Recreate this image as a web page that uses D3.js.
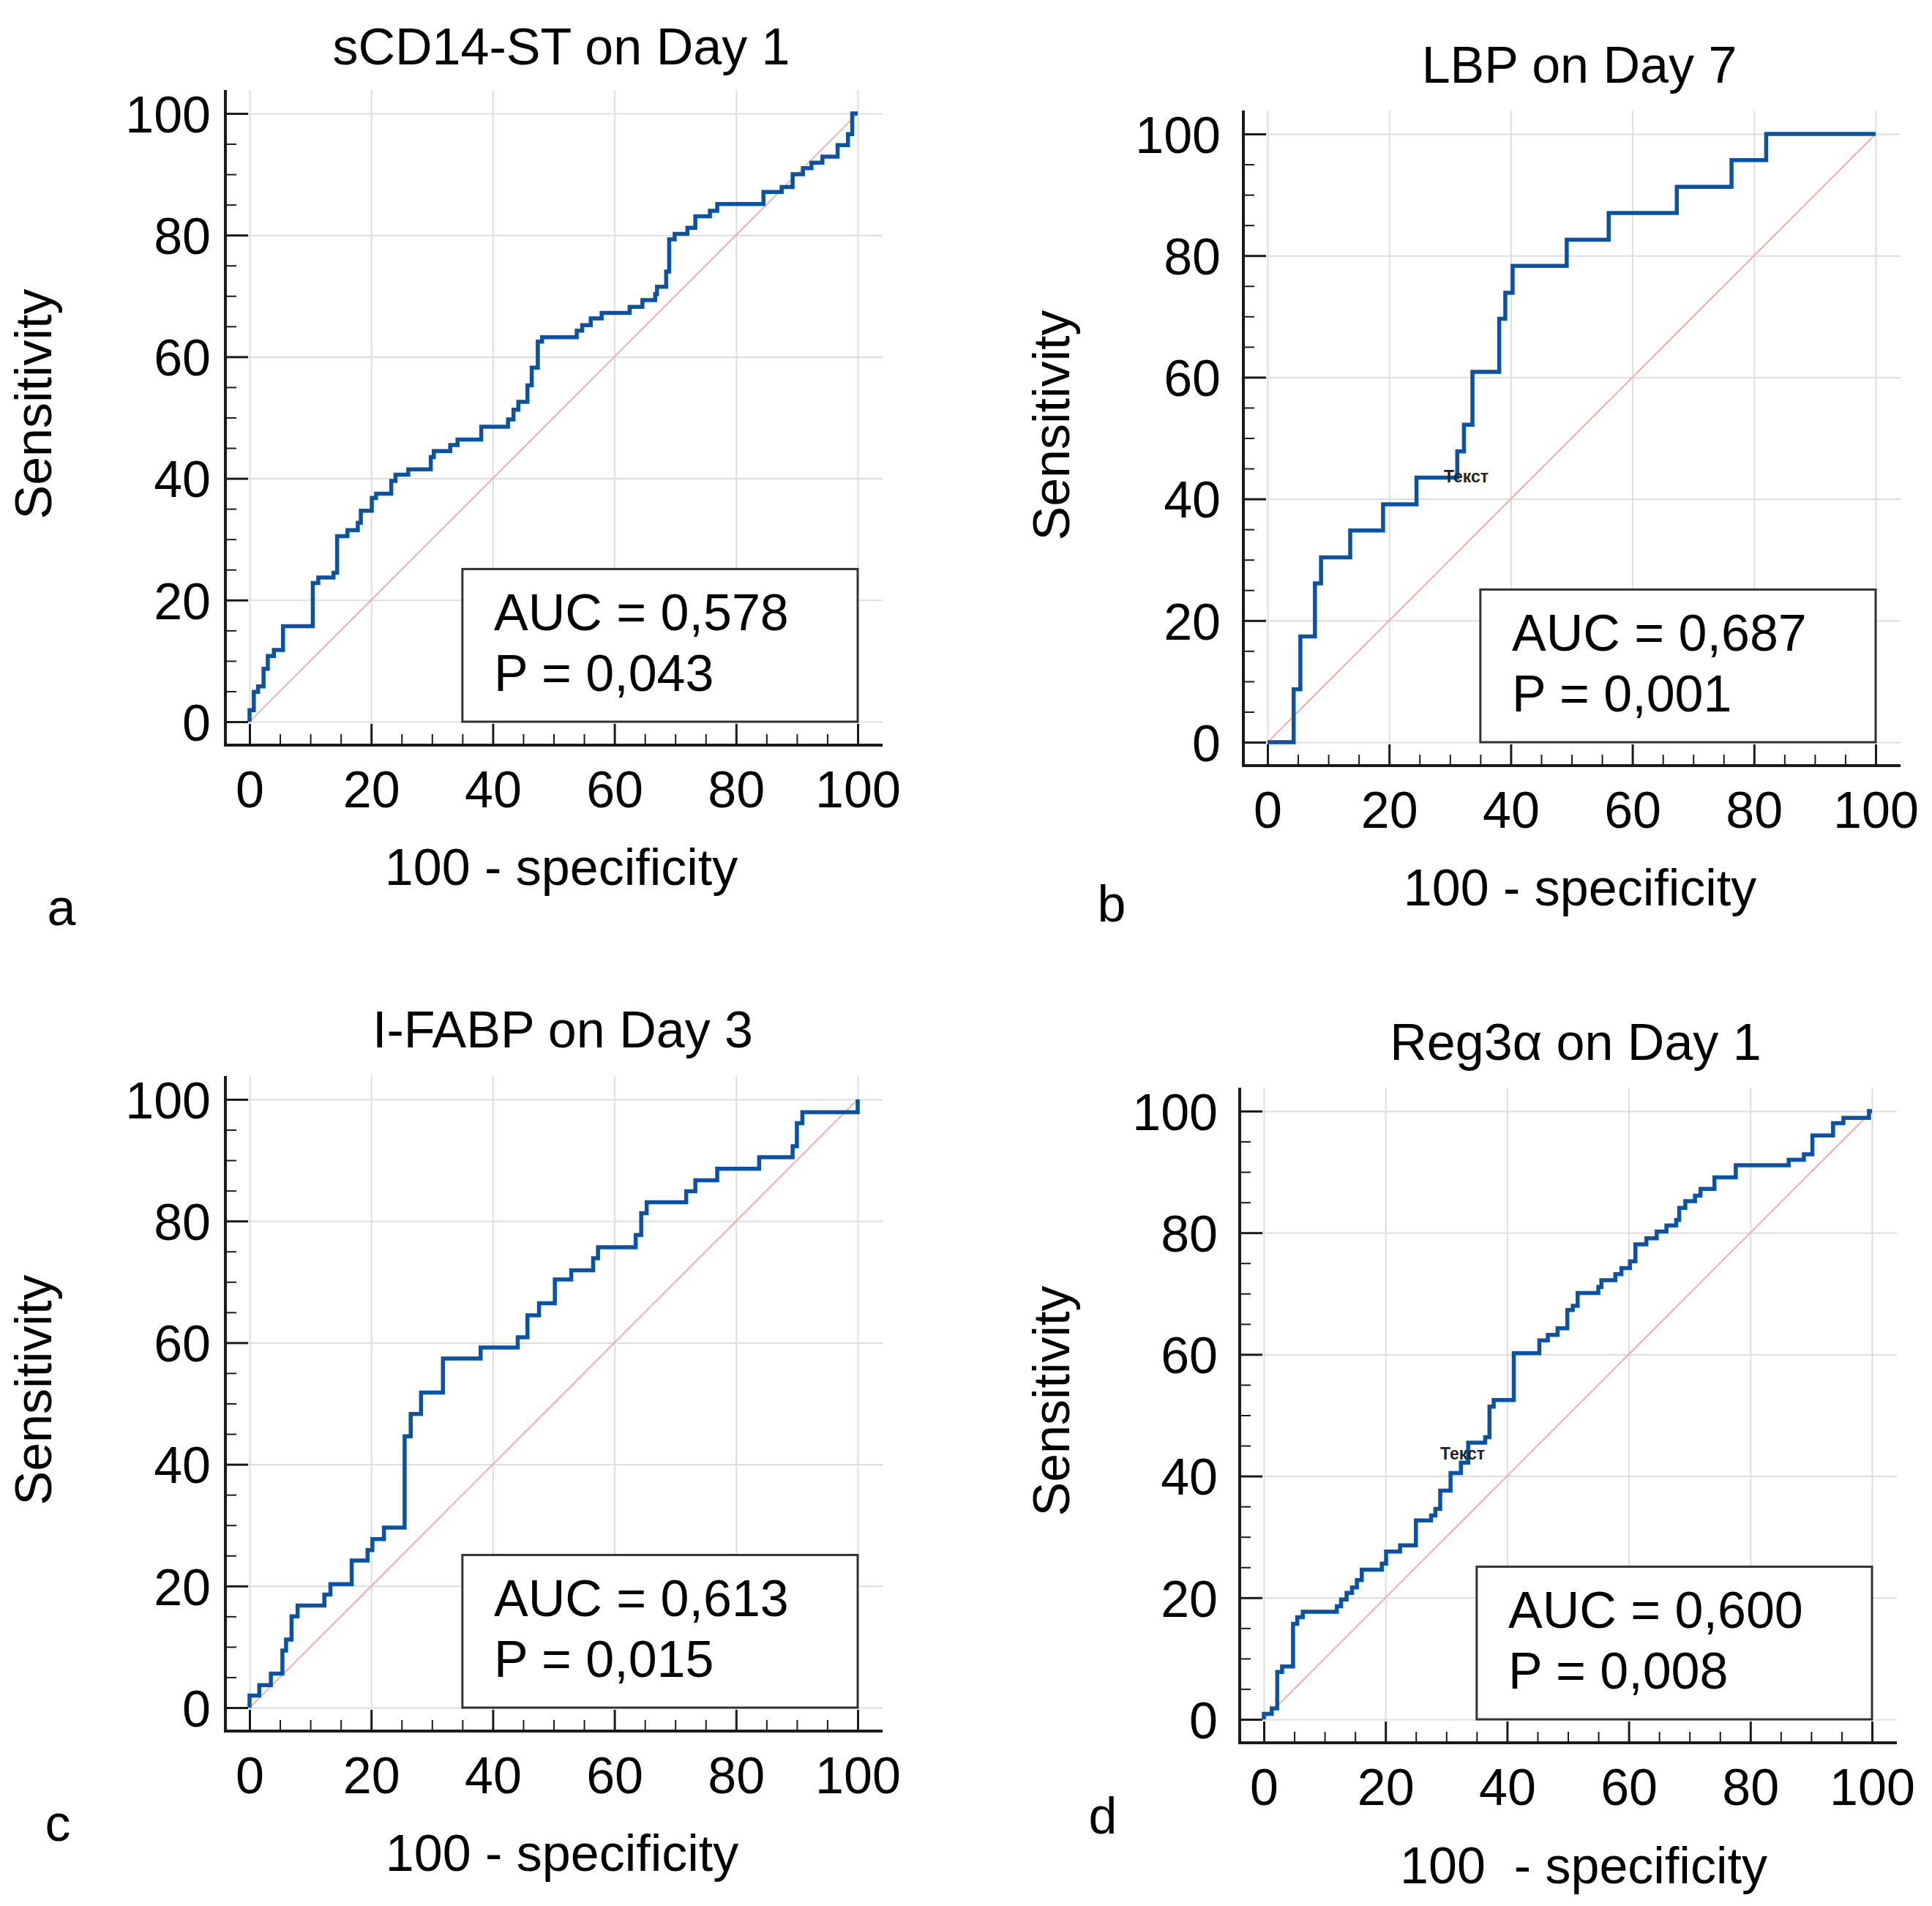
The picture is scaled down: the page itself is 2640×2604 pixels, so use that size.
<!DOCTYPE html>
<html>
<head>
<meta charset="utf-8">
<script src="https://cdn.jsdelivr.net/npm/d3@7"></script>
<style>
  body { margin: 0; background: #fff; }
</style>
</head>
<body>
<div id="chart"></div>
<script>
// ---- data ----
const titles = ["sCD14-ST on Day 1", "LBP on Day 7", "I-FABP on Day 3", "Reg3α on Day 1"];
const aucLabels = ["AUC = 0,578", "AUC = 0,687", "AUC = 0,613", "AUC = 0,600"];
const pLabels = ["P = 0,043", "P = 0,001", "P = 0,015", "P = 0,008"];
const panelLetters = ["a", "b", "c", "d"];
const xTitles = ["100 - specificity", "100 - specificity", "100 - specificity", "100  - specificity"];
const yTitle = "Sensitivity";
const noteLabels = [null, "Текст", null, "Текст"];
const majorTicks = [0, 20, 40, 60, 80, 100];
const minorTicks = [5, 10, 15, 25, 30, 35, 45, 50, 55, 65, 70, 75, 85, 90, 95];

// ROC step points: [100 - specificity, sensitivity] at each rise
const rocA = [[0,0],[0,1.9],[0.7,4.9],[1.4,5.8],[2.3,8.7],[3.0,10.8],[4.0,11.8],[5.5,15.7],[10.4,22.8],[11.3,23.7],
  [13.8,24.5],[14.4,30.5],[16.1,31.5],[17.8,32.7],[18.3,34.7],[20.1,36.8],[20.8,37.5],[23.3,39.6],[24.0,40.6],[26.1,41.5],
  [29.8,43.5],[30.3,44.5],[33.0,45.5],[34.2,46.4],[38.1,48.5],[42.5,49.7],[43.4,51.3],[44.2,52.6],[45.7,55.3],[46.4,58.2],
  [47.4,62.5],[48.1,63.2],[53.8,64.3],[54.7,65.2],[56.1,66.3],[57.9,67.2],[62.5,68.2],[64.6,69.3],[66.7,70.3],[67.0,71.5],
  [68.5,74.0],[69.0,79.3],[69.9,80.2],[72.0,81.2],[73.3,83.1],[75.7,84.0],[76.9,85.1],[84.5,87.1],[87.5,87.9],[89.3,90.0],
  [91.0,91.0],[92.4,91.9],[94.2,92.9],[96.7,94.8],[98.4,96.6],[99.1,100],[100,100]];
const rocB = [[0,0],[4.3,8.7],[5.4,17.4],[7.8,26.1],[8.8,30.4],[13.6,34.8],[19.0,39.1],[24.5,43.5],[31.2,47.8],[32.3,52.2],
  [33.7,60.9],[38.1,69.6],[39.1,73.9],[40.3,78.3],[49.2,82.6],[56.1,87.0],[67.3,91.3],[76.3,95.7],[82.0,100],[100,100]];
const rocC = [[0,0],[0,2.0],[1.6,3.7],[3.5,5.6],[5.4,9.4],[6.0,11.2],[6.9,15.0],[7.9,16.8],[12.3,18.6],[13.3,20.3],
  [16.8,24.2],[19.4,25.9],[20.2,27.7],[22.1,29.6],[25.5,44.6],[26.5,48.3],[28.2,51.8],[31.8,57.4],[38.0,59.2],[44.1,60.9],
  [45.7,64.5],[47.6,66.5],[50.2,70.4],[52.9,71.9],[56.5,73.9],[57.3,75.7],[63.5,77.7],[64.4,81.3],[65.3,83.1],[71.8,84.9],
  [73.3,86.7],[76.9,88.6],[83.8,90.5],[89.3,92.3],[90.0,96.1],[90.9,97.9],[100,100]];
const rocD = [[0,0],[0,0.9],[1.3,1.8],[2.2,7.8],[3.0,8.7],[4.8,15.7],[5.5,16.8],[6.4,17.7],[12.0,18.6],[12.7,19.7],
  [13.6,20.8],[14.5,21.7],[15.3,22.9],[16.1,24.6],[19.4,25.6],[20.1,27.6],[22.4,28.6],[25.0,32.7],[27.5,33.5],[28.2,34.6],
  [29.0,37.6],[30.7,40.5],[32.4,42.2],[33.6,45.5],[36.4,46.4],[37.1,51.4],[37.8,52.5],[41.1,60.2],[45.3,62.3],[46.7,63.2],
  [48.3,64.3],[49.9,67.3],[50.8,68.0],[51.6,70.1],[55.0,71.1],[55.5,72.2],[57.8,73.2],[58.8,74.2],[60.2,75.3],[61.1,78.1],
  [62.9,79.1],[64.6,80.2],[66.2,81.2],[67.8,82.1],[68.3,84.1],[69.3,85.2],[70.9,86.1],[71.8,87.2],[74.1,89.1],[77.6,91.1],
  [86.3,92.0],[88.8,92.9],[90.2,96.0],[93.6,98.0],[95.3,98.9],[99.5,100],[100,100]];
const rocs = [rocA, rocB, rocC, rocD];

// ---- layout (pixels) ----
const config = {
    width: 2640,
    height: 2604,
    size: 831,        // length of 0..100 on both axes
    font: "'Liberation Sans', Arial, Helvetica, sans-serif",
    fontSize: 70,
    blue: "#0a52a3",
    diag: "#f2a2a2",
    grid: "#dedede",
    ink: "#1a1a1a",
};

const layout = [
    { x0: 341,  y0: 986,  gap: 20, title: [767, 88],    xTitle: [767, 1209],  yTitle: [70, 552],    letter: [84, 1264] },
    { x0: 1732, y0: 1014, gap: 31, title: [2158, 113],  xTitle: [2159, 1237], yTitle: [1461, 581],  letter: [1519, 1259] },
    { x0: 341,  y0: 2333, gap: 20, title: [769, 1431],  xTitle: [768, 2556],  yTitle: [70, 1899],   letter: [79, 2515] },
    { x0: 1727, y0: 2349, gap: 30, title: [2153, 1448], xTitle: [2164, 2573], yTitle: [1461, 1914], letter: [1507, 2505] },
];

const svg = d3.select("#chart").append("svg")
    .attr("width", config.width)
    .attr("height", config.height)
    .style("font-family", config.font);

svg.append("rect")
    .attr("width", config.width)
    .attr("height", config.height)
    .attr("fill", "#fff");

layout.forEach((L, i) => {
    const x = d3.scaleLinear().domain([0, 100]).range([L.x0, L.x0 + config.size]);
    const y = d3.scaleLinear().domain([0, 100]).range([L.y0, L.y0 - config.size]);

    const left = x(0) - 33, right = x(100) + 34;
    const top = y(100) - 32, bottom = y(0) + 32;

    const g = svg.append("g");

    // grid lines
    g.append("g")
        .attr("transform", `translate(0,${bottom})`)
        .call(d3.axisBottom(x).tickValues(majorTicks).tickSize(-(bottom - top)).tickFormat(""))
        .call(s => s.select(".domain").remove())
        .call(s => s.selectAll("line").attr("stroke", config.grid).attr("stroke-width", 2));
    g.append("g")
        .attr("transform", `translate(${left},0)`)
        .call(d3.axisLeft(y).tickValues(majorTicks).tickSize(-(right - left)).tickFormat(""))
        .call(s => s.select(".domain").remove())
        .call(s => s.selectAll("line").attr("stroke", config.grid).attr("stroke-width", 2));

    // reference diagonal
    g.append("line")
        .attr("x1", x(0)).attr("y1", y(0))
        .attr("x2", x(100)).attr("y2", y(100))
        .attr("stroke", config.diag)
        .attr("stroke-width", 1.6);

    // ROC curve
    const line = d3.line()
        .x(d => x(d[0]))
        .y(d => y(d[1]))
        .curve(d3.curveStepAfter);
    g.append("path")
        .datum(rocs[i])
        .attr("d", line)
        .attr("fill", "none")
        .attr("stroke", config.blue)
        .attr("stroke-width", 5.5)
        .attr("stroke-linejoin", "miter");

    // small "Текст" leftovers in b and d
    if (noteLabels[i]) {
        g.append("text")
            .attr("x", x(29))
            .attr("y", y(42.7))
            .attr("font-size", 23)
            .attr("font-weight", "bold")
            .attr("fill", "#222")
            .text(noteLabels[i]);
    }

    // AUC box
    g.append("rect")
        .attr("x", x(35))
        .attr("y", y(25.1))
        .attr("width", x(100) - x(35))
        .attr("height", y(0) - y(25.1))
        .attr("fill", "#fff")
        .attr("stroke", "#333")
        .attr("stroke-width", 3);
    g.append("text")
        .attr("x", x(40.2))
        .attr("y", y(15))
        .attr("font-size", config.fontSize)
        .text(aucLabels[i]);
    g.append("text")
        .attr("x", x(40.2))
        .attr("y", y(5))
        .attr("font-size", config.fontSize)
        .text(pLabels[i]);

    // y axis ticks
    const yMajor = g.append("g")
        .attr("transform", `translate(${left},0)`)
        .call(d3.axisLeft(y).tickValues(majorTicks).tickSizeInner(-31).tickSizeOuter(0).tickPadding(L.gap));
    yMajor.select(".domain").remove();
    yMajor.selectAll("line").attr("stroke", config.ink).attr("stroke-width", 3);
    yMajor.selectAll("text")
        .attr("font-size", config.fontSize)
        .attr("font-family", config.font)
        .attr("fill", "#000")
        .attr("dy", "0.36em");

    g.append("g")
        .attr("transform", `translate(${left},0)`)
        .call(d3.axisLeft(y).tickValues(minorTicks).tickSize(-15).tickFormat(""))
        .call(s => s.select(".domain").remove())
        .call(s => s.selectAll("line").attr("stroke", config.ink).attr("stroke-width", 2));

    // x axis ticks
    const xMajor = g.append("g")
        .attr("transform", `translate(0,${bottom})`)
        .call(d3.axisBottom(x).tickValues(majorTicks).tickSizeInner(-29).tickSizeOuter(0).tickPadding(35));
    xMajor.select(".domain").remove();
    xMajor.selectAll("line").attr("stroke", config.ink).attr("stroke-width", 3);
    xMajor.selectAll("text")
        .attr("font-size", config.fontSize)
        .attr("font-family", config.font)
        .attr("fill", "#000");

    g.append("g")
        .attr("transform", `translate(0,${bottom})`)
        .call(d3.axisBottom(x).tickValues(minorTicks).tickSize(-15).tickFormat(""))
        .call(s => s.select(".domain").remove())
        .call(s => s.selectAll("line").attr("stroke", config.ink).attr("stroke-width", 2));

    // axis lines
    g.append("line")
        .attr("x1", left).attr("x2", left)
        .attr("y1", top).attr("y2", bottom + 2)
        .attr("stroke", config.ink).attr("stroke-width", 4);
    g.append("line")
        .attr("x1", left - 2).attr("x2", right)
        .attr("y1", bottom).attr("y2", bottom)
        .attr("stroke", config.ink).attr("stroke-width", 4);

    // titles and labels
    g.append("text")
        .attr("x", L.title[0]).attr("y", L.title[1])
        .attr("text-anchor", "middle")
        .attr("font-size", config.fontSize)
        .text(titles[i]);

    g.append("text")
        .attr("x", L.xTitle[0]).attr("y", L.xTitle[1])
        .attr("text-anchor", "middle")
        .attr("font-size", config.fontSize)
        .style("white-space", "pre")
        .text(xTitles[i]);

    g.append("text")
        .attr("transform", `translate(${L.yTitle[0]},${L.yTitle[1]}) rotate(-90)`)
        .attr("text-anchor", "middle")
        .attr("font-size", config.fontSize)
        .text(yTitle);

    g.append("text")
        .attr("x", L.letter[0]).attr("y", L.letter[1])
        .attr("text-anchor", "middle")
        .attr("font-size", config.fontSize)
        .text(panelLetters[i]);
});
</script>
</body>
</html>
